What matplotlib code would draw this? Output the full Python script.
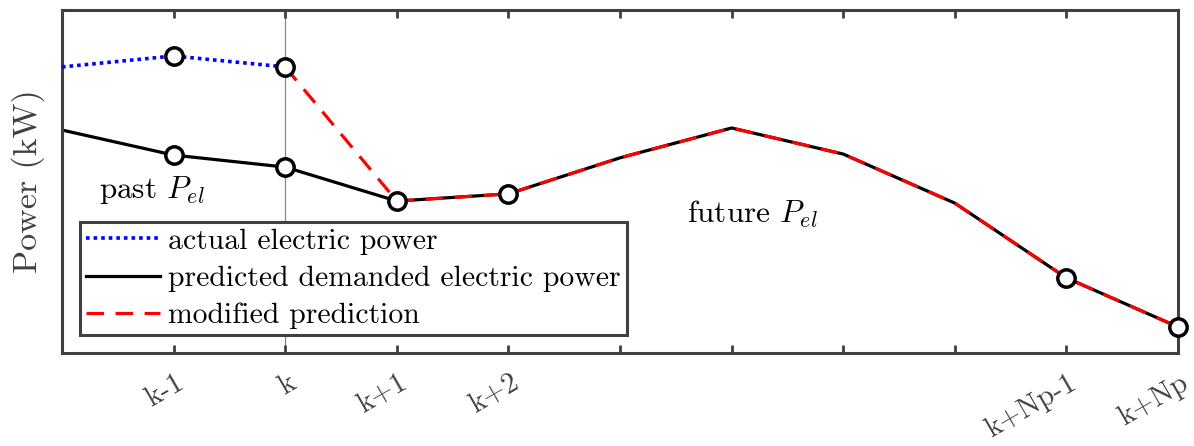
import matplotlib
matplotlib.use("Agg")
import matplotlib.pyplot as plt
import matplotlib.transforms as mtransforms

plt.rcParams['font.family'] = 'serif'
plt.rcParams['font.serif'] = ['cmr10']
plt.rcParams['mathtext.fontset'] = 'cm'
plt.rcParams['axes.unicode_minus'] = False

# data
steps = [0, 1, 2, 3, 4, 5, 6, 7, 8, 9, 10]
tick_labels = ['', 'k-1', 'k', 'k+1', 'k+2', '', '', '', '', 'k+Np-1', 'k+Np']
actual_x = [0, 1, 2]
actual_power = [8.34, 8.66, 8.34]
predicted_power = [6.50, 5.77, 5.42, 4.43, 4.64, 5.69, 6.56, 5.80, 4.37, 2.19, 0.76]
modified_x = [2, 3, 4, 5, 6, 7, 8, 9, 10]
modified_power = [8.34, 4.43, 4.64, 5.69, 6.56, 5.80, 4.37, 2.19, 0.76]
actual_marks = [1, 2]
predicted_marks = [1, 2, 3, 4, 9, 10]

fig = plt.figure(figsize=(11.94, 4.46), dpi=100)
ax = fig.add_axes([62/1194, 1-353/446, (1178-62)/1194, (353-10)/446])

axc = '#404040'
ax.axvline(2, color='#888888', lw=0.9, zorder=1)

mk = dict(marker='o', markersize=12.5, markerfacecolor='white',
          markeredgecolor='black', markeredgewidth=2.5)

l1, = ax.plot(actual_x, actual_power, color='blue', lw=2.6, dashes=(1, 1.1),
              label='actual electric power', zorder=3)
l2, = ax.plot(steps, predicted_power, color='black', lw=2.3,
              label='predicted demanded electric power', zorder=2)
l3, = ax.plot(modified_x, modified_power, color='red', lw=2.3, dashes=(5.5, 3.6),
              label='modified prediction', zorder=4)
ax.plot(actual_x, actual_power, linestyle='none', markevery=actual_marks,
        zorder=5, clip_on=False, **mk)
ax.plot(steps, predicted_power, linestyle='none', markevery=predicted_marks,
        zorder=5, clip_on=False, **mk)

ax.set_xlim(0, 10)
ax.set_ylim(0, 10)
ax.set_xticks(steps[1:])
ax.set_xticklabels(tick_labels[1:], rotation=30, fontsize=21, color='#404040',
                   ha='right', rotation_mode='anchor', va='top')
ax.set_yticks([])
ax.tick_params(axis='x', direction='in', length=6, width=2, color=axc,
               top=True, pad=12)
off = mtransforms.ScaledTranslation(2/100, 0, fig.dpi_scale_trans)
for lab in ax.get_xticklabels():
    lab.set_transform(lab.get_transform() + off)
for s in ax.spines.values():
    s.set_linewidth(2.2)
    s.set_color(axc)

ax.set_ylabel('Power (kW)', fontsize=24.5, color='#404040', labelpad=12)

ax.text(0.33, 4.75, r'past $P_{el}$', fontsize=22.5, va='center', ha='left')
ax.text(5.6, 4.05, r'future $P_{el}$', fontsize=22.5, va='center', ha='left')

leg = ax.legend(handles=[l1, l2, l3], loc='upper left',
                bbox_to_anchor=(18/1116, 1-(222-10)/343), fontsize=21.4,
                frameon=True, fancybox=False, framealpha=1, edgecolor=axc,
                handlelength=2.5, handletextpad=0.27, borderpad=0.2,
                labelspacing=0.35, borderaxespad=0)
leg.get_frame().set_linewidth(2.2)
leg.set_zorder(6)

fig.savefig('out.png', dpi=100)
